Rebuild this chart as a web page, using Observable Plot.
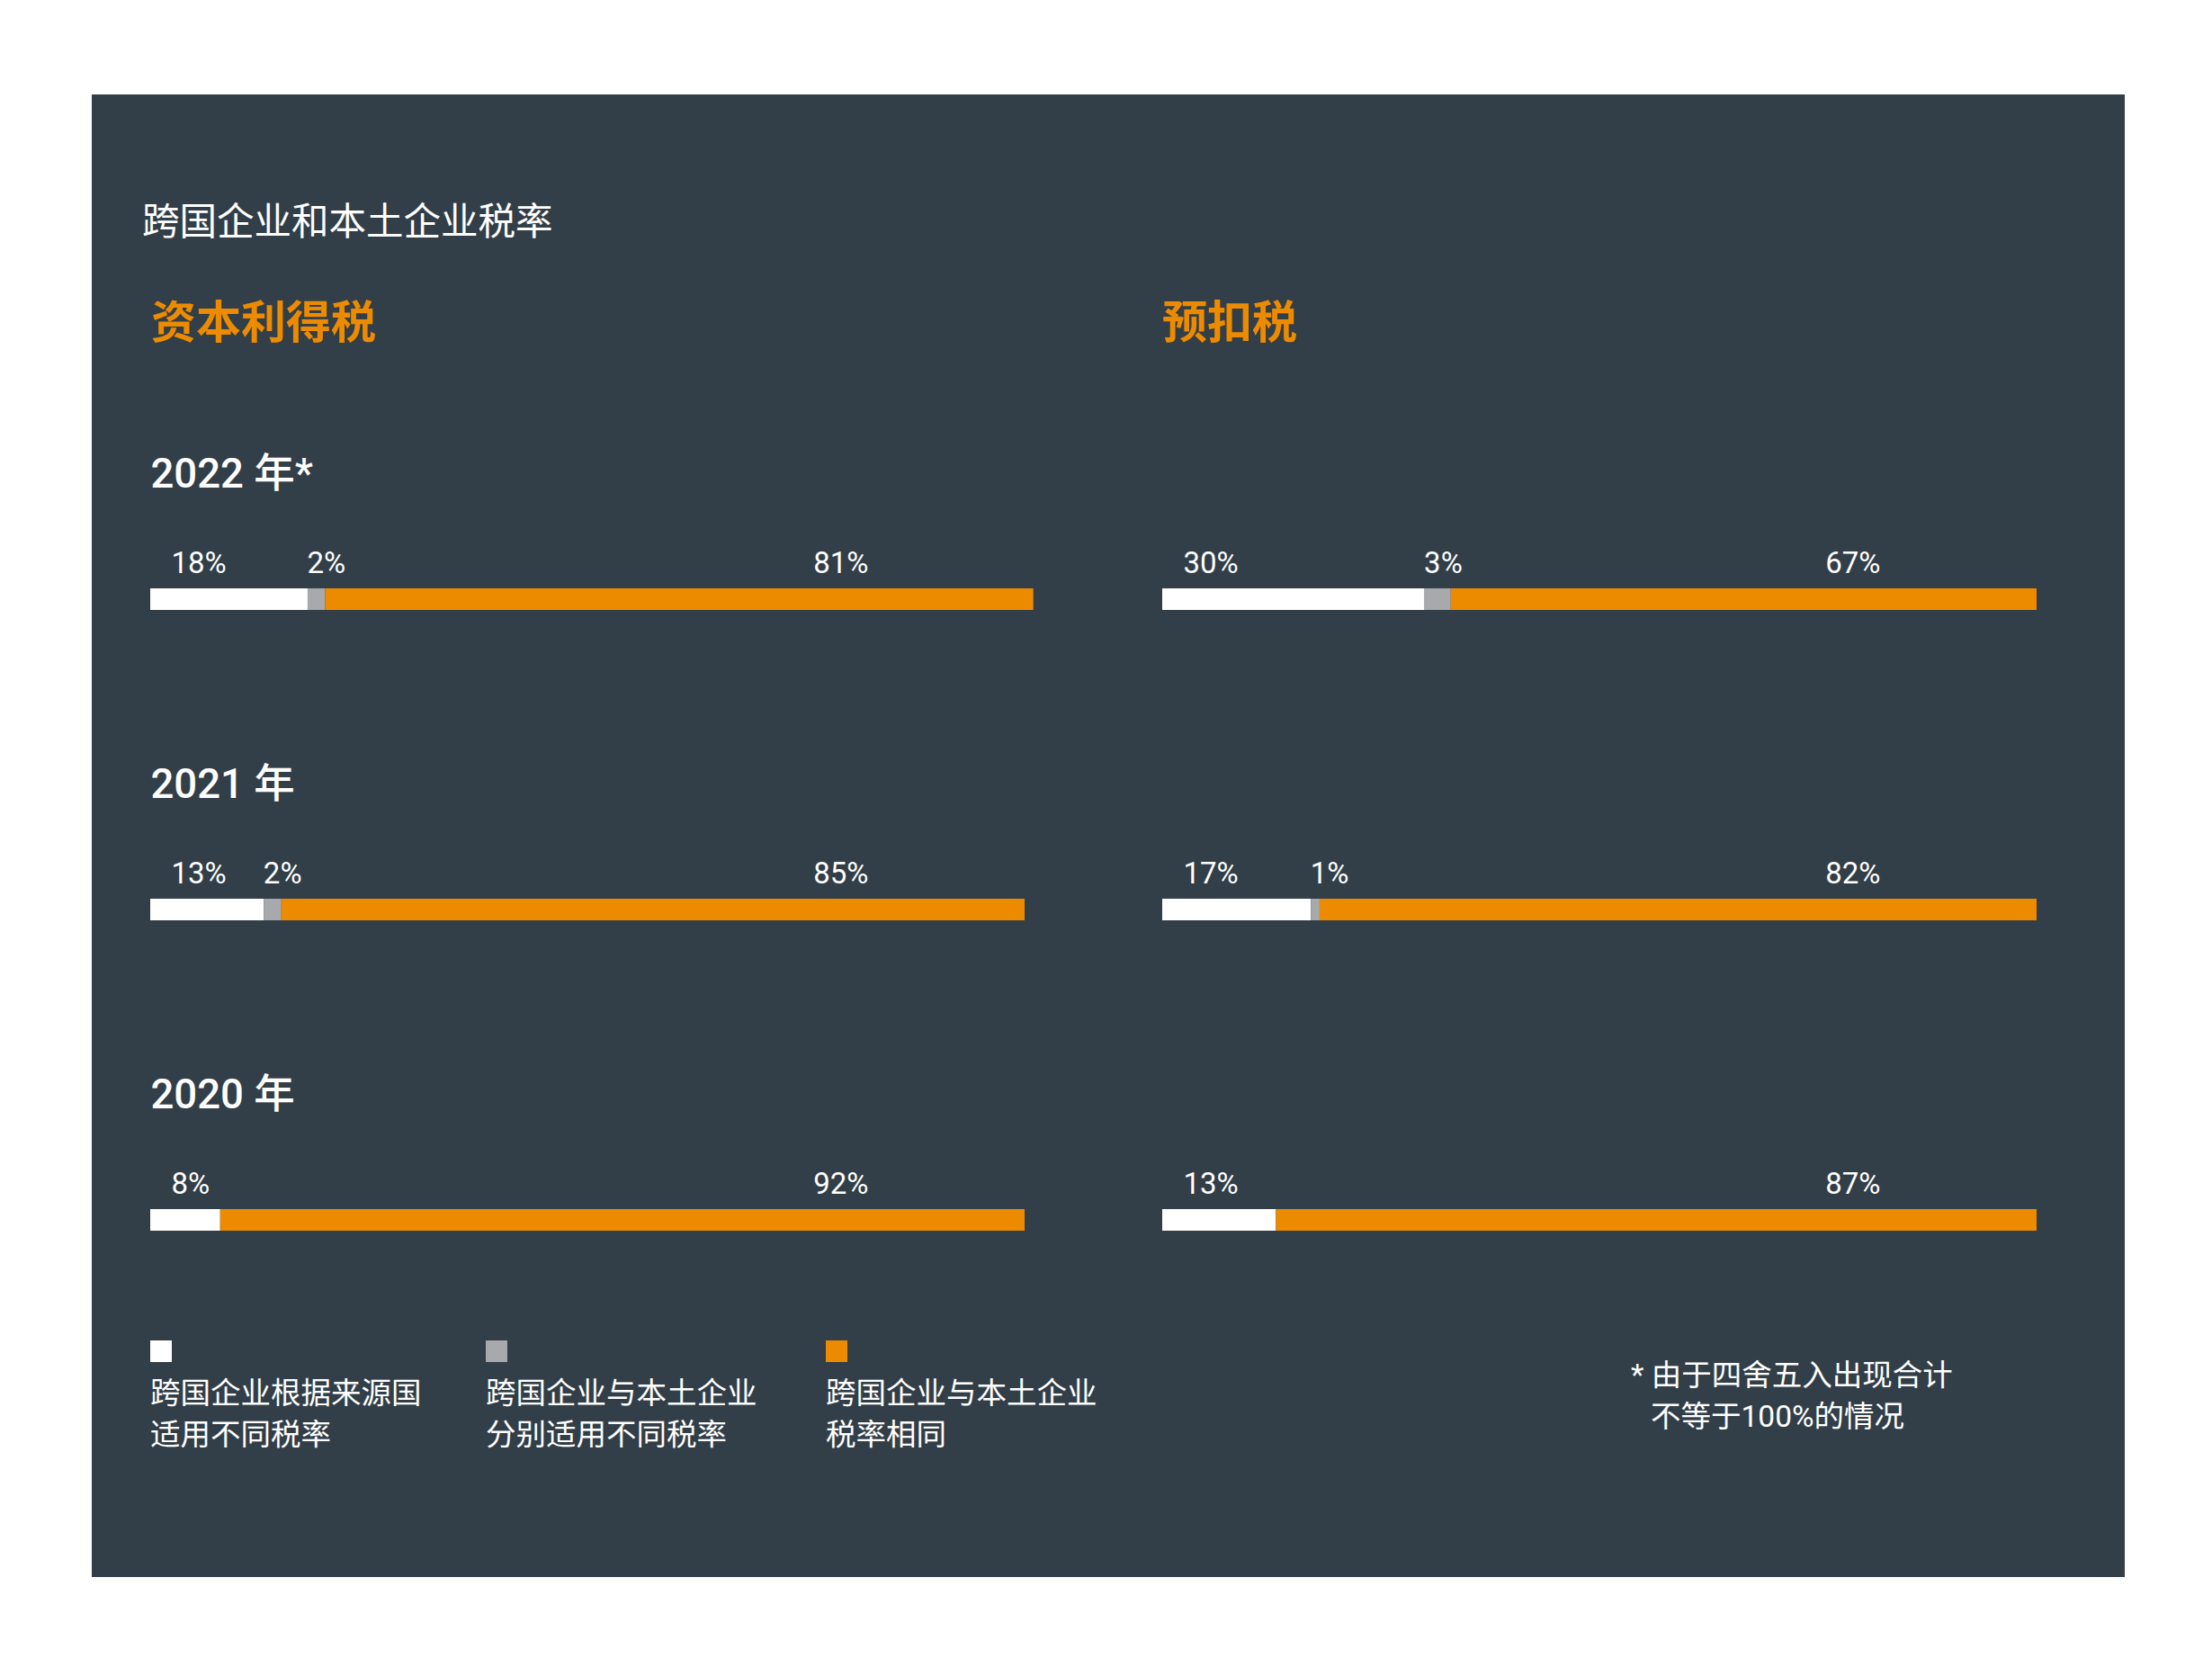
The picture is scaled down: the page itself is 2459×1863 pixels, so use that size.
<!DOCTYPE html>
<html>
<head>
<meta charset="utf-8">
<script src="https://cdn.jsdelivr.net/npm/d3@7"></script>
<script src="https://cdn.jsdelivr.net/npm/@observablehq/plot@0.6"></script>
<style>
  html, body { margin: 0; padding: 0; background: #ffffff; }
  body { width: 2459px; height: 1863px; position: relative; font-family: Roboto, "Noto Sans CJK SC", sans-serif; }
  #panel { position: absolute; left: 102px; top: 105px; width: 2260px; height: 1648px; background: #323e48; }
  .abs { position: absolute; }
  .title { left: 56px; top: 121px; font-size: 41.5px; line-height: 1; color: #ffffff; white-space: nowrap; }
  .head { top: 229px; font-size: 50px; line-height: 1; font-weight: 700; color: #ed8b00; white-space: nowrap; }
  .sw { top: 1385px; width: 24px; height: 24px; }
  .lg { top: 1421px; font-size: 33.5px; line-height: 46px; color: #ffffff; white-space: pre-line; }
  .fn { left: 1711px; top: 1401px; font-size: 33.5px; line-height: 46px; color: #ffffff; white-space: nowrap; }
</style>
</head>
<body>
<div id="panel"></div>
<script>
const title = "跨国企业和本土企业税率";
const panels = ["资本利得税", "预扣税"];
const years = ["2022", "2021", "2020"];
const yearLabels = ["2022 年*", "2021 年", "2020 年"];
const categories = [
  "跨国企业根据来源国\n适用不同税率",
  "跨国企业与本土企业\n分别适用不同税率",
  "跨国企业与本土企业\n税率相同"
];
const colors = ["#ffffff", "#a7a9ac", "#ed8b00"];
// 资本利得税
const cgSource = [18, 13, 8];
const cgSeparate = [2, 2, 0];
const cgSame = [81, 85, 92];
// 预扣税
const whtSource = [30, 17, 13];
const whtSeparate = [3, 1, 0];
const whtSame = [67, 82, 87];
const footnote = ["* 由于四舍五入出现合计", "不等于100%的情况"];

const panel = document.getElementById("panel");

function addDiv(cls, text, style) {
  const d = document.createElement("div");
  d.className = "abs " + cls;
  d.textContent = text;
  Object.assign(d.style, style || {});
  panel.appendChild(d);
  return d;
}

addDiv("title", title);
addDiv("head", panels[0], {left: "66px"});
addDiv("head", panels[1], {left: "1190px"});

function rowsFor(series) {
  const rows = [];
  years.forEach((y, i) => {
    let start = 0;
    series.forEach((s, j) => {
      const v = s[i];
      if (v > 0) rows.push({year: y, cat: categories[j], idx: j, value: v, start});
      start += v;
    });
  });
  return rows;
}

function column(series, showYears) {
  const rows = rowsFor(series);
  const yearRows = years.map((y, i) => ({year: y, label: yearLabels[i]}));
  const labelStyle = {
    y: "year", text: d => d.value + "%", lineAnchor: "bottom", dy: -16.5,
    fill: "#ffffff", fontSize: 33
  };
  const marks = [
    Plot.barX(rows, Plot.stackX({
      x: "value", y: "year", fill: "cat",
      insetTop: 174, insetBottom: 147
    })),
    Plot.text(rows.filter(d => d.idx === 0), {
      ...labelStyle, frameAnchor: "left", textAnchor: "start", dx: 23
    }),
    Plot.text(rows.filter(d => d.idx === 1), {
      ...labelStyle, x: "start", textAnchor: "start", dx: -1
    }),
    Plot.text(rows.filter(d => d.idx === 2), {
      ...labelStyle, frameAnchor: "right", textAnchor: "end", dx: -174
    })
  ];
  if (showYears) {
    marks.push(Plot.text(yearRows, {
      frameAnchor: "left", y: "year", text: "label",
      textAnchor: "start", lineAnchor: "bottom", dy: -111.5,
      fill: "#ffffff", fontSize: 45.5, fontWeight: 500
    }));
  }
  return Plot.plot({
    width: 1000,
    height: 1035,
    marginLeft: 0,
    marginRight: 28,
    marginTop: 0,
    marginBottom: 0,
    x: {domain: [0, 100], axis: null},
    y: {type: "band", domain: years, padding: 0, axis: null},
    color: {domain: categories, range: colors},
    style: {background: "transparent", color: "#ffffff", fontFamily: "Roboto, 'Noto Sans CJK SC', sans-serif", overflow: "visible"},
    marks
  });
}

const left = column([cgSource, cgSeparate, cgSame], true);
const right = column([whtSource, whtSeparate, whtSame], false);
[[left, 65], [right, 1190]].forEach(([svg, x]) => {
  const w = document.createElement("div");
  w.className = "abs";
  w.style.left = x + "px";
  w.style.top = "375px";
  w.appendChild(svg);
  panel.appendChild(w);
});

const legendX = [65, 438, 816];
categories.forEach((c, j) => {
  addDiv("sw", "", {left: legendX[j] + "px", background: colors[j]});
  addDiv("lg", c, {left: legendX[j] + "px"});
});

addDiv("fn", footnote[0]);
addDiv("fn", footnote[1], {top: (1401 + 46) + "px", left: (1711 + 22) + "px"});
</script>
</body>
</html>
